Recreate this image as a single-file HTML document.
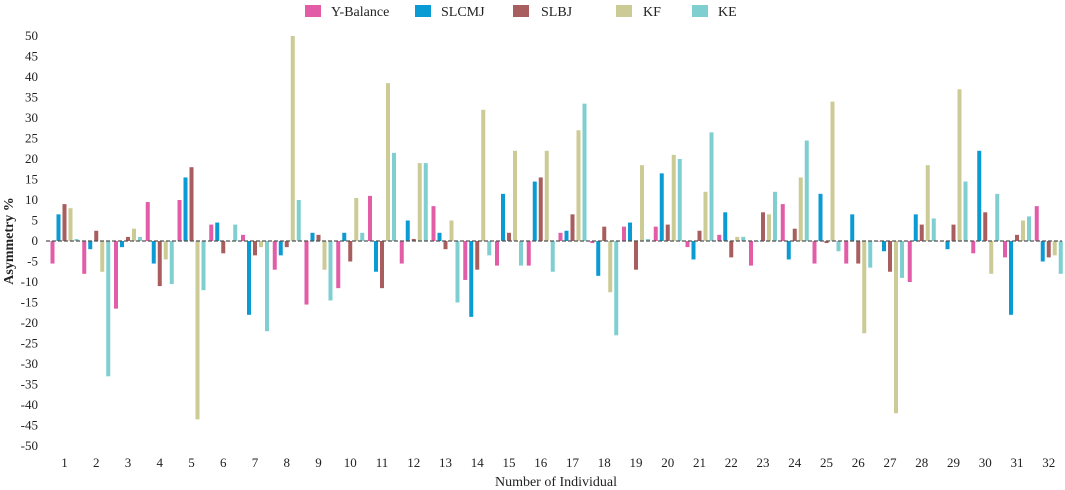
<!DOCTYPE html>
<html><head><meta charset="utf-8">
<style>
html,body{margin:0;padding:0;background:#fff;}
svg{display:block;font-family:"Liberation Serif",serif;}
</style></head>
<body>
<svg id="chart" width="1065" height="490" viewBox="0 0 1065 490" xmlns="http://www.w3.org/2000/svg">
  <g font-size="14" fill="#222">
    <g><rect x="305" y="5" width="16" height="12" fill="#e35ca8"/><text x="331" y="16">Y-Balance</text></g>
    <g><rect x="415" y="5" width="16" height="12" fill="#0a9ad4"/><text x="441" y="16">SLCMJ</text></g>
    <g><rect x="513" y="5" width="16" height="12" fill="#a85e5e"/><text x="541" y="16">SLBJ</text></g>
    <g><rect x="616" y="5" width="16" height="12" fill="#cccb96"/><text x="643" y="16">KF</text></g>
    <g><rect x="692" y="5" width="16" height="12" fill="#7fcfd1"/><text x="718" y="16">KE</text></g>
  </g>
  <g id="yticks"></g>
  <g id="bars"></g>
  <line x1="46" x2="1062" y1="241" y2="241" stroke="#555" stroke-width="1.2" stroke-dasharray="4,2"/>
  <g id="xticks"></g>
  <text transform="translate(13,241) rotate(-90)" text-anchor="middle" font-size="14" font-weight="bold" fill="#222">Asymmetry %</text>
  <text x="556" y="486" text-anchor="middle" font-size="14" fill="#222">Number of Individual</text>
</svg>
<script>
const categories = [1,2,3,4,5,6,7,8,9,10,11,12,13,14,15,16,17,18,19,20,21,22,23,24,25,26,27,28,29,30,31,32];
const yBalance = [-5.5,-8,-16.5,9.5,10,4,1.5,-7,-15.5,-11.5,11,-5.5,8.5,-9.5,-6,-6,2,-0.5,3.5,3.5,-1.5,1.5,-6,9,-5.5,-5.5,0,-10,0,-3,-4,8.5];
const slcmj = [6.5,-2,-1.5,-5.5,15.5,4.5,-18,-3.5,2,2,-7.5,5,2,-18.5,11.5,14.5,2.5,-8.5,4.5,16.5,-4.5,7,0,-4.5,11.5,6.5,-2.5,6.5,-2,22,-18,-5];
const slbj = [9,2.5,1,-11,18,-3,-3.5,-1.5,1.5,-5,-11.5,0.5,-2,-7,2,15.5,6.5,3.5,-7,4,2.5,-4,7,3,-0.5,-5.5,-7.5,4,4,7,1.5,-4];
const kf = [8,-7.5,3,-4.5,-43.5,0,-1.5,50,-7,10.5,38.5,19,5,32,22,22,27,-12.5,18.5,21,12,1,6.5,15.5,34,-22.5,-42,18.5,37,-8,5,-3.5];
const ke = [0.5,-33,1,-10.5,-12,4,-22,10,-14.5,2,21.5,19,-15,-3.5,-6,-7.5,33.5,-23,0.5,20,26.5,1,12,24.5,-2.5,-6.5,-9,5.5,14.5,11.5,6,-8];
const yTicks = [50,45,40,35,30,25,20,15,10,5,0,-5,-10,-15,-20,-25,-30,-35,-40,-45,-50];
const seriesList = [yBalance, slcmj, slbj, kf, ke];
const seriesNames = ['y-balance','slcmj','slbj','kf','ke'];
const colors = ['#e35ca8','#0a9ad4','#a85e5e','#cccb96','#7fcfd1'];
const NS = 'http://www.w3.org/2000/svg';
function yScale(v){ return 241 - v*4.1; }
function xScale(i){ return 64.5 + i*31.75; }
const yt = document.getElementById('yticks');
yTicks.forEach(t=>{
  const el = document.createElementNS(NS,'text');
  
  
  el.setAttribute('x', 38); el.setAttribute('y', yScale(t)+4);
  el.setAttribute('text-anchor','end'); el.setAttribute('font-size','13'); el.setAttribute('fill','#222');
  el.textContent = t; yt.appendChild(el);
});
const xt = document.getElementById('xticks');
categories.forEach((c,i)=>{
  const el = document.createElementNS(NS,'text');
  
  
  el.setAttribute('x', xScale(i)); el.setAttribute('y', 467);
  el.setAttribute('text-anchor','middle'); el.setAttribute('font-size','13'); el.setAttribute('fill','#222');
  el.textContent = c; xt.appendChild(el);
});
const bg = document.getElementById('bars');
const offsets = [-12,-6,0,6,12];
seriesList.forEach((s,k)=>{
  s.forEach((v,i)=>{
    const r = document.createElementNS(NS,'rect');
    
    
    const y0 = yScale(0), y1 = yScale(v);
    r.setAttribute('x', xScale(i)+offsets[k]-2);
    r.setAttribute('width', 4);
    r.setAttribute('y', Math.min(y0,y1));
    r.setAttribute('height', Math.max(Math.abs(y1-y0),0.5));
    r.setAttribute('fill', colors[k]);
    bg.appendChild(r);
  });
});
</script>
</body></html>
